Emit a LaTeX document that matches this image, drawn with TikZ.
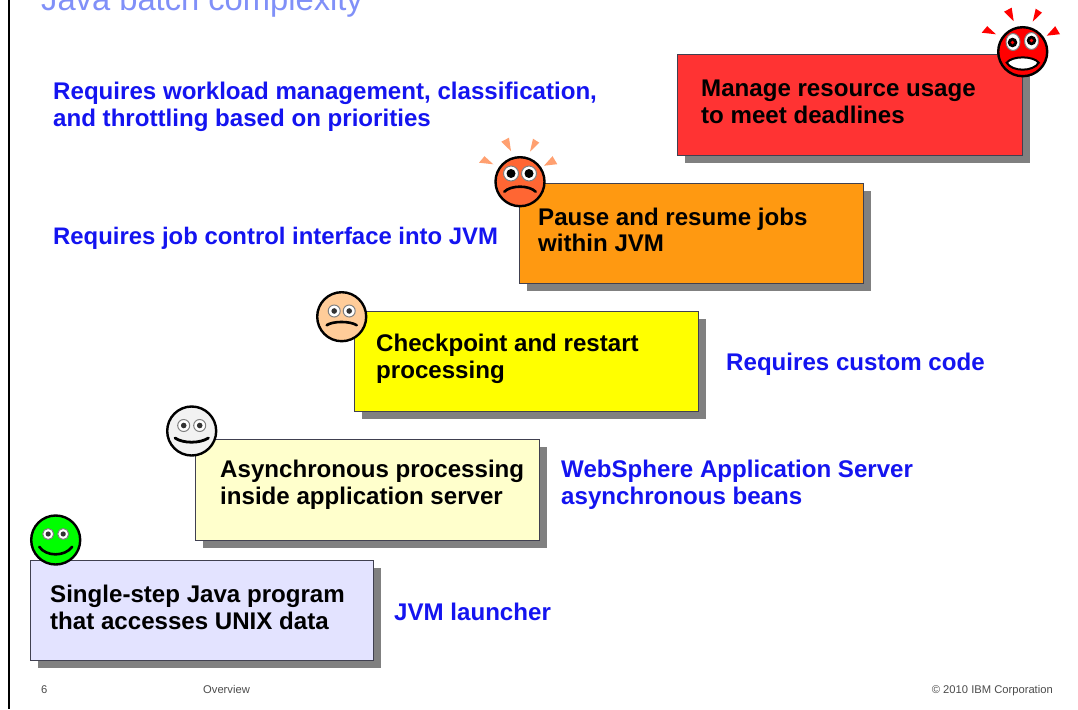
\documentclass[tikz,border=0pt]{standalone}
\usepackage{fontspec}
\setmainfont{Liberation Sans}
\definecolor{labelblue}{HTML}{1414F0}
\definecolor{titleblue}{HTML}{8090F8}
\definecolor{boxedge}{HTML}{404050}
\definecolor{shadowgray}{HTML}{808080}
\definecolor{raypeach}{HTML}{FFA070}
\definecolor{boxred}{HTML}{FF3333}
\definecolor{boxorange}{HTML}{FF9911}
\definecolor{boxyellow}{HTML}{FFFF00}
\definecolor{boxcream}{HTML}{FFFFCC}
\definecolor{boxlav}{HTML}{E3E3FF}
\definecolor{facered}{HTML}{FF0000}
\definecolor{faceorange}{HTML}{FF6633}
\definecolor{facepeach}{HTML}{FFCC99}
\definecolor{facegrey}{HTML}{F2F2F2}
\definecolor{facegreen}{HTML}{00FF00}
\newcommand{\stepbox}[5]{%
  \fill[shadowgray] (#1+8,#2+8) rectangle (#3+8,#4+8);
  \draw[boxedge,line width=1pt,fill=#5] (#1,#2) rectangle (#3,#4);}
\newcommand{\faceeyes}[7]{% cx cy dx dy rw rp pupilcolor
  \foreach \s in {-1,1}{
    \fill[white,draw=gray,line width=1pt] (#1+\s*#3,#2+#4) circle[radius=#5];
    \fill[#7] (#1+\s*#3,#2+#4) circle[radius=#6];}}
\newcommand{\rays}[3]{% cx cy colour
  \fill[#3] (#1-41,#2-19) -- (#1-35.5,#2-25.5) -- (#1-26.7,#2-17.4) -- cycle;
  \fill[#3] (#1-18.7,#2-40) -- (#1-11,#2-44) -- (#1-9,#2-30.5) -- cycle;
  \fill[#3] (#1+13,#2-43) -- (#1+19.3,#2-39) -- (#1+10,#2-30) -- cycle;
  \fill[#3] (#1+32.5,#2-25.5) -- (#1+37.3,#2-17.5) -- (#1+24,#2-16) -- cycle;}
\tikzset{
  x=1pt,y=-1pt,
  stepb/.style={anchor=base west,inner sep=0pt,align=left,font=\fontsize{24.1}{26.5}\selectfont\bfseries,text=black},
  bluel/.style={anchor=base west,inner sep=0pt,align=left,font=\fontsize{24.1}{26.5}\selectfont\bfseries,text=labelblue},
  foot/.style={inner sep=0pt,font=\fontsize{11.2}{13}\selectfont,text=black!70},
  facec/.style={circle,draw=black,line width=2.4pt,minimum size=49pt,inner sep=0pt,fill=#1},
}
\begin{document}
\begin{tikzpicture}
\useasboundingbox (0,0) rectangle (1078,709);
\clip (0,0) rectangle (1078,709);
\fill[white] (0,0) rectangle (1078,709);
\draw[black,line width=2.2pt] (9,0) -- (9,709);
\node[anchor=base west,inner sep=0pt,font=\fontsize{32.7}{36}\selectfont,text=titleblue] (title) at (41,11) {Java batch complexity};

\stepbox{677}{55}{1022}{155}{boxred}
\stepbox{519}{183}{863}{283}{boxorange}
\stepbox{354}{311}{698}{411}{boxyellow}
\stepbox{195}{439}{539}{540}{boxcream}
\stepbox{30}{560}{373}{660}{boxlav}

\node[stepb] (t1) at (701,123) {Manage resource usage\\to meet deadlines};
\node[stepb] (t2) at (538,251.5) {Pause and resume jobs\\within JVM};
\node[stepb] (t3) at (376,378) {Checkpoint and restart\\processing};
\node[stepb] (t4) at (220,504) {Asynchronous processing\\inside application server};
\node[stepb] (t5) at (50,629) {Single-step Java program\\that accesses UNIX data};

\node[bluel] (l1) at (53,126) {Requires workload management, classification,\\and throttling based on priorities};
\node[bluel,font=\fontsize{23.9}{26.5}\selectfont\bfseries] (l2) at (53,244) {Requires job control interface into JVM};
\node[bluel] (l3) at (726,370) {Requires custom code};
\node[bluel] (l4) at (561,504) {WebSphere Application Server\\asynchronous beans};
\node[bluel] (l5) at (394,620) {JVM launcher};

% red face
\rays{1022.7}{51.7}{facered}
\node[facec=facered] (f1) at (1022.7,51.7) {};
\fill[white,draw=gray,line width=1pt] (1013,42) ellipse[x radius=7,y radius=8.5];
\fill[white,draw=gray,line width=1pt] (1031.5,41) ellipse[x radius=7,y radius=8.5];
\fill[black] (1012.5,42.5) circle[radius=4.8] (1031.5,40.5) circle[radius=4.8];
\fill[facered] (1012.5,42.5) circle[radius=1.8] (1031.5,40.5) circle[radius=1.8];
\draw[black,line width=2pt,fill=white] (1006.7,62.7) .. controls (1012,55.6) and (1033.4,55.6) .. (1038.7,62.7) .. controls (1033.4,72) and (1012,72) .. cycle;
% orange face
\rays{520}{181.7}{raypeach}
\node[facec=faceorange] (f2) at (520,181.7) {};
\faceeyes{520}{173.5}{9}{0}{7.5}{4.5}{black}
\draw[black,line width=2.6pt,line cap=round] (504.3,191.7) .. controls (511,185) and (529,185) .. (535.7,191.7);
% peach face
\node[facec=facepeach] (f3) at (341.7,316.7) {};
\faceeyes{341.7}{311}{7.5}{0}{6}{2.8}{black!80}
\draw[black,line width=2.6pt,line cap=round] (326.7,325.2) .. controls (333,320.9) and (350,320.9) .. (356.7,325.2);
% grey face
\node[facec=facegrey] (f4) at (191.7,431) {};
\faceeyes{191.7}{425.5}{8}{0}{6}{2.8}{black!80}
\draw[black,line width=2.8pt,line cap=round] (175,438) .. controls (183,443.6) and (200,443.6) .. (208.4,438);
% green face
\node[facec=facegreen] (f5) at (55.7,540) {};
\faceeyes{55.7}{534}{7.5}{0}{5.5}{2.6}{black!80}
\draw[black,line width=2.6pt,line cap=round] (39.2,546.7) .. controls (46,556.9) and (65,556.9) .. (72.2,546.7);

\node[foot,anchor=base west] (pg) at (41,693) {6};
\node[foot,anchor=base west] (ov) at (203,693) {Overview};
\node[foot,anchor=base east] (cr) at (1053,693) {© 2010 IBM Corporation};
\end{tikzpicture}
\end{document}
